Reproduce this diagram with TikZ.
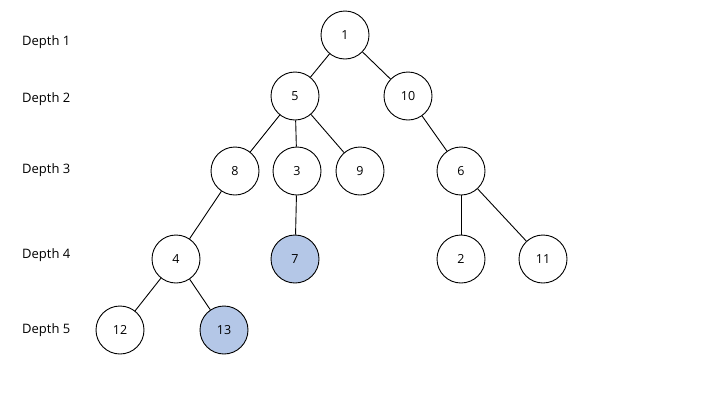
\documentclass[tikz,border=0pt]{standalone}
\usepackage{fontspec}
\setmainfont{Open Sans}
\usepackage{tikz}
\usetikzlibrary{positioning,calc}
\usepackage{xcolor}
\definecolor{hitblue}{HTML}{B4C7E7}

\begin{document}
\begin{tikzpicture}[x=1pt,y=-1pt,
    treenode/.style={circle, draw, line width=0.9pt, minimum size=48pt, inner sep=0pt, font=\fontsize{12.5}{14}\selectfont},
    hitnode/.style={treenode, fill=hitblue},
    depthlabel/.style={anchor=west, inner sep=0pt, font=\fontsize{13}{15}\selectfont}]
            \useasboundingbox (0,0) rectangle (720,405);
            
            % Depth labels
            \node[depthlabel] (d1) at (22,42) {Depth 1};
            \node[depthlabel] (d2) at (22,99) {Depth 2};
            \node[depthlabel] (d3) at (22,170) {Depth 3};
            \node[depthlabel] (d4) at (22,255) {Depth 4};
            \node[depthlabel] (d5) at (22,330) {Depth 5};
            
            % Tree nodes
            \node[treenode] (n1) at (345,35) {1};
            \node[treenode] (n5) at (295,96) {5};
            \node[treenode] (n10) at (408,96) {10};
            \node[treenode] (n8) at (235,171) {8};
            \node[treenode] (n3) at (297,171) {3};
            \node[treenode] (n9) at (360,171) {9};
            \node[treenode] (n6) at (461,171) {6};
            \node[treenode] (n4) at (176,259) {4};
            \node[hitnode] (n7) at (295,259) {7};
            \node[treenode] (n2) at (461,259) {2};
            \node[treenode] (n11) at (543,259) {11};
            \node[treenode] (n12) at (120,330) {12};
            \node[hitnode] (n13) at (224,330) {13};
            
            % Edges
            \foreach \a/\b in {n1/n5, n1/n10, n5/n8, n5/n3, n5/n9, n10/n6, n8/n4, n3/n7, n6/n2, n6/n11, n4/n12, n4/n13}
                \draw[line width=0.9pt] (\a) -- (\b);
        \end{tikzpicture}
\end{document}
